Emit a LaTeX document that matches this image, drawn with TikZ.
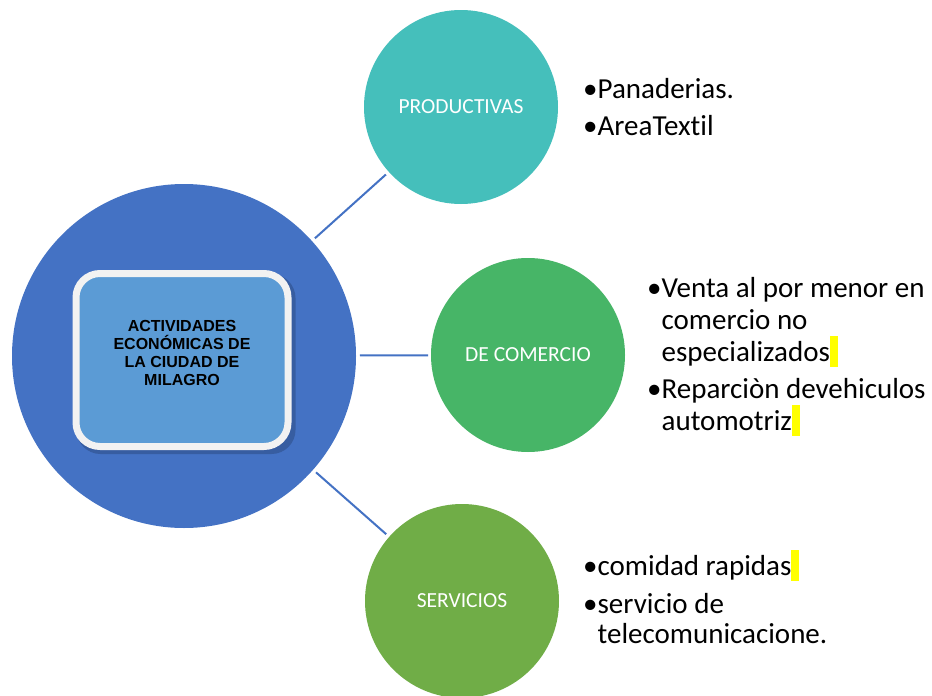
\documentclass[tikz,border=0pt]{standalone}
\usepackage{fontspec}
\usetikzlibrary{calc}
\setmainfont{Carlito}[Ligatures=NoCommon]
\newfontfamily\arialb{Liberation Sans}
\definecolor{bigblue}{HTML}{4472C4}
\definecolor{boxblue}{HTML}{5B9BD5}
\definecolor{tealc}{HTML}{45BFBB}
\definecolor{greenc}{HTML}{47B567}
\definecolor{olivec}{HTML}{70AD47}
\definecolor{rimc}{HTML}{F2F2F2}
\definecolor{shadowc}{HTML}{2F4F8A}
\definecolor{hl}{HTML}{FFFF00}
\newcommand{\hlbar}{\textcolor{hl}{\rule[-0.2em]{0.27em}{1.05em}}}
\tikzset{
  sat/.style={circle, minimum size=194pt, inner sep=0pt, text=white, font=\fontsize{21.5}{24}\selectfont},
  link/.style={draw=bigblue, line width=2pt},
  lst/.style={anchor=base west, align=left, inner sep=0pt, font=\fontsize{29}{32}\selectfont},
}
\begin{document}
\begin{tikzpicture}[x=1pt,y=-1pt]
\useasboundingbox (0,0) rectangle (932,696);
\fill[white] (0,0) rectangle (932,696);
% main circle
\node[circle, fill=bigblue, minimum size=344pt, inner sep=0pt] (main) at (184,356) {};
% inner box with shadow
\node[rounded corners=24pt, fill=shadowc, opacity=0.6, minimum width=219pt, minimum height=180pt] (shad) at (186,364) {};
\node[rounded corners=24pt, fill=boxblue, draw=rimc, line width=7pt, minimum width=212pt, minimum height=173pt] (box) at (182,360) {};
\node[align=center, font=\arialb\bfseries\fontsize{16}{18}\selectfont] (boxtext) at (182,353)
      {ACTIVIDADES\\ECONÓMICAS DE\\LA CIUDAD DE\\MILAGRO};
% satellites
\node[sat, fill=tealc] (prod) at (461,107) {PRODUCTIVAS};
\node[sat, fill=greenc] (com) at (528,355) {DE COMERCIO};
\node[sat, fill=olivec] (serv) at (462,601) {SERVICIOS};
% connectors
\draw[link] ($(main)!176pt!(prod)$) -- ($(prod)!101pt!(main)$);
\draw[link] ($(main)!176pt!(com)$) -- ($(com)!100pt!(main)$);
\draw[link] ($(main)!176pt!(serv)$) -- ($(serv)!101pt!(main)$);
% lists (anchored at the baseline of their last line)
\node[lst] (l1) at (583,135) {•Panaderias.\\[5pt]•AreaTextil};
\node[lst] (l2) at (647,430) {•Venta al por menor en\\\phantom{•}comercio no\\\phantom{•}especializados\hlbar\\[5pt]•Reparciòn devehiculos\\\phantom{•}automotriz\hlbar};
\node[lst] (l3) at (583,643) {•comidad rapidas\hlbar\\[6pt]•servicio de\\[-2pt]\phantom{•}telecomunicacione.};
\end{tikzpicture}
\end{document}
